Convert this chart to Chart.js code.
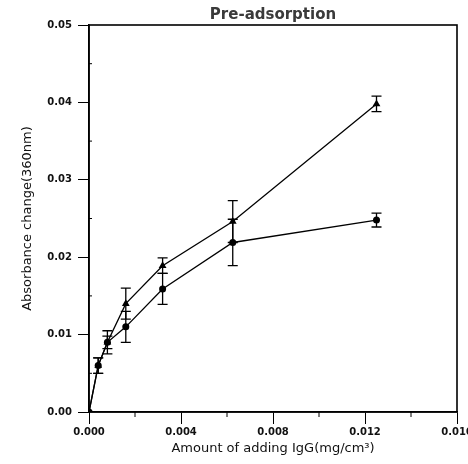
<!DOCTYPE html>
<html>
<head>
<meta charset="utf-8">
<script src="https://cdn.jsdelivr.net/npm/chart.js@4.4.1/dist/chart.umd.min.js"></script>
<style>
html,body{margin:0;padding:0;background:#fff;overflow:hidden;width:468px;height:464px;}
#wrap{position:absolute;left:0;top:0;width:480px;height:464px;}
</style>
</head>
<body>
<div id="wrap"><canvas id="c" width="480" height="464"></canvas></div>
<script>
const xValues = [0, 0.0004, 0.0008, 0.0016, 0.0032, 0.00625, 0.0125];
const triangleSeries = [0, 0.006, 0.009, 0.014, 0.0189, 0.0246, 0.0398];
const triangleErr = [0, 0.001, 0.0015, 0.002, 0.001, 0.0027, 0.001];
const circleSeries = [0, 0.006, 0.009, 0.011, 0.0159, 0.0219, 0.0248];
const circleErr = [0, 0.001, 0.0008, 0.002, 0.002, 0.003, 0.0009];
const yTicks = [0, 0.01, 0.02, 0.03, 0.04, 0.05];
const xTicks = [0, 0.004, 0.008, 0.012, 0.016];
const titleText = 'Pre-adsorption';
const xTitle = 'Amount of adding IgG(mg/cm\u00B3)';
const yTitle = 'Absorbance change(360nm)';

const errBars = [triangleErr, circleErr];

const errorBarPlugin = {
  id: 'errBars',
  afterDatasetsDraw(chart) {
    const ctx = chart.ctx, xs = chart.scales.x, ys = chart.scales.y;
    ctx.save();
    ctx.strokeStyle = '#000';
    ctx.lineWidth = 1.3;
    chart.data.datasets.forEach((ds, di) => {
      const errs = errBars[di];
      ds.data.forEach((p, i) => {
        const e = errs[i];
        if (!e) return;
        const px = xs.getPixelForValue(p.x);
        const top = ys.getPixelForValue(p.y + e);
        const bot = ys.getPixelForValue(p.y - e);
        ctx.beginPath();
        ctx.moveTo(px, top); ctx.lineTo(px, bot);
        ctx.moveTo(px - 5, top); ctx.lineTo(px + 5, top);
        ctx.moveTo(px - 5, bot); ctx.lineTo(px + 5, bot);
        ctx.stroke();
      });
    });
    ctx.restore();
  }
};

const framePlugin = {
  id: 'frame',
  afterDraw(chart) {
    const ctx = chart.ctx, a = chart.chartArea, xs = chart.scales.x, ys = chart.scales.y;
    ctx.save();
    ctx.strokeStyle = '#000';
    ctx.lineWidth = 1.6;
    ctx.strokeRect(a.left, a.top, a.right - a.left, a.bottom - a.top);
    ctx.lineWidth = 1;
    for (let v = 0.002; v < 0.016; v += 0.004) {
      const px = xs.getPixelForValue(v);
      ctx.beginPath(); ctx.moveTo(px, a.bottom); ctx.lineTo(px, a.bottom + 5); ctx.stroke();
    }
    for (let v = 0.005; v < 0.05; v += 0.01) {
      const py = ys.getPixelForValue(v);
      ctx.beginPath(); ctx.moveTo(a.left, py); ctx.lineTo(a.left + 3, py); ctx.stroke();
    }
    ctx.restore();
  }
};

const tickFont = {family: 'DejaVu Sans, sans-serif', size: 10, weight: 'bold'};
const axisTitleFont = {family: 'DejaVu Sans, sans-serif', size: 13};

new Chart(document.getElementById('c'), {
  type: 'scatter',
  data: {
    datasets: [
      {
        label: 'triangle',
        data: xValues.map((x, i) => ({x: x, y: triangleSeries[i]})),
        showLine: true,
        borderColor: '#000',
        backgroundColor: '#000',
        borderWidth: 1.3,
        pointStyle: 'triangle',
        pointRadius: 4.5,
        pointBorderWidth: 0,
        pointBackgroundColor: '#000'
      },
      {
        label: 'circle',
        data: xValues.map((x, i) => ({x: x, y: circleSeries[i]})),
        showLine: true,
        borderColor: '#000',
        backgroundColor: '#000',
        borderWidth: 1.3,
        pointStyle: 'circle',
        pointRadius: 3.5,
        pointBorderWidth: 0,
        pointBackgroundColor: '#000'
      }
    ]
  },
  options: {
    responsive: false,
    animation: false,
    layout: {padding: {left: 0, right: 23, top: 0, bottom: 0}},
    plugins: {
      legend: {display: false},
      tooltip: {enabled: false},
      title: {
        display: true,
        fullSize: false,
        text: titleText,
        color: '#3a3a3a',
        font: {family: 'DejaVu Sans, sans-serif', size: 15, weight: 'bold', lineHeight: 1},
        padding: {top: 8, bottom: 2},
        align: 'center'
      }
    },
    scales: {
      x: {
        type: 'linear',
        min: 0, max: 0.016,
        afterBuildTicks: s => { s.ticks = xTicks.map(v => ({value: v})); },
        afterFit: s => { s.height = 52; },
        ticks: {
          color: '#111',
          font: tickFont,
          padding: 2,
          maxRotation: 0,
          callback: v => v.toFixed(3)
        },
        grid: {display: true, drawOnChartArea: false, drawTicks: true, tickLength: 12, color: '#000', lineWidth: 1},
        border: {display: true, color: '#000', width: 1.6},
        title: {
          display: true,
          text: xTitle,
          color: '#111',
          font: axisTitleFont,
          padding: {top: 0, bottom: 8}
        }
      },
      y: {
        type: 'linear',
        min: 0, max: 0.05,
        afterBuildTicks: s => { s.ticks = yTicks.map(v => ({value: v})); },
        afterFit: s => { s.width = 89; },
        ticks: {
          color: '#111',
          font: tickFont,
          padding: 6,
          callback: v => v.toFixed(2)
        },
        grid: {display: true, drawOnChartArea: false, drawTicks: true, tickLength: 11, color: '#000', lineWidth: 1},
        border: {display: true, color: '#000', width: 1.6},
        title: {
          display: true,
          text: yTitle,
          color: '#111',
          font: axisTitleFont,
          padding: {top: 20, bottom: 0}
        }
      }
    }
  },
  plugins: [errorBarPlugin, framePlugin]
});
</script>
</body>
</html>
